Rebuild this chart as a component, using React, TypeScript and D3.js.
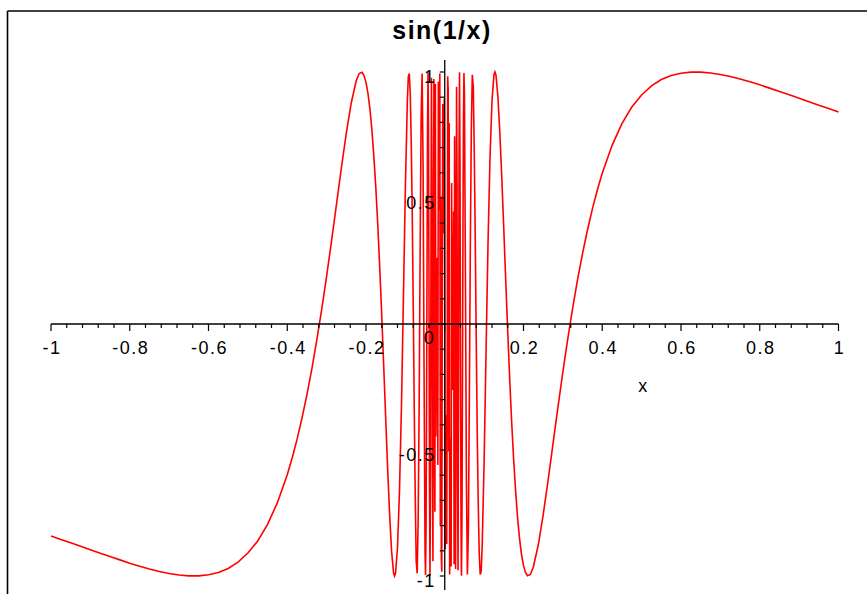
import React from "react";
import * as d3 from "d3";

const title = "sin(1/x)";
const xAxisTitle = "x";

// Sampled points [x, y] of the plotted curve, left half (x < 0)
const curveLeft: [number, number][] = [
  [-1.0, -0.841], [-0.975, -0.855], [-0.95, -0.868], [-0.925, -0.882], [-0.9, -0.896],
  [-0.875, -0.91], [-0.85, -0.923], [-0.825, -0.936], [-0.8, -0.949], [-0.775, -0.961],
  [-0.75, -0.972], [-0.725, -0.982], [-0.7, -0.99], [-0.675, -0.996], [-0.65, -0.9995],
  [-0.625, -0.9996], [-0.6, -0.995], [-0.575, -0.986], [-0.55, -0.97], [-0.525, -0.945],
  [-0.5, -0.909], [-0.475, -0.861], [-0.45, -0.795], [-0.425, -0.709], [-0.4, -0.598],
  [-0.3875, -0.532], [-0.375, -0.457], [-0.3625, -0.373], [-0.35, -0.28], [-0.3375, -0.178],
  [-0.325, -0.064], [-0.3125, 0.058], [-0.3, 0.19], [-0.2875, 0.33], [-0.275, 0.475],
  [-0.2625, 0.62], [-0.25, 0.757], [-0.2375, 0.877], [-0.225, 0.964], [-0.2175, 0.994],
  [-0.21, 0.9986], [-0.205, 0.986], [-0.2, 0.959], [-0.195, 0.915], [-0.19, 0.853],
  [-0.185, 0.77], [-0.18, 0.663], [-0.175, 0.539], [-0.17, 0.391], [-0.165, 0.22],
  [-0.16, 0.033], [-0.155, -0.168], [-0.15, -0.374], [-0.145, -0.576], [-0.14, -0.756],
  [-0.135, -0.902], [-0.13, -0.988], [-0.1275, -0.9999], [-0.125, -0.989], [-0.12, -0.887],
  [-0.115, -0.665], [-0.11, -0.33], [-0.105, 0.099], [-0.1, 0.544], [-0.095, 0.884],
  [-0.0925, 0.983], [-0.09, 0.994], [-0.0875, 0.908], [-0.085, 0.709], [-0.0825, 0.43],
  [-0.08, 0.066], [-0.0775, -0.331], [-0.075, -0.677], [-0.0725, -0.941], [-0.07, -0.989],
  [-0.0675, -0.778], [-0.065, -0.319], [-0.0625, 0.289], [-0.06, 0.818], [-0.0575, 0.994],
  [-0.055, 0.619], [-0.0525, -0.197], [-0.05, -0.913], [-0.04875, -0.996], [-0.0475, -0.806],
  [-0.04625, -0.362], [-0.045, 0.229], [-0.04375, 0.761], [-0.0425, 0.9994], [-0.04125, 0.778],
  [-0.04, 0.132], [-0.03875, -0.624], [-0.0375, -0.999], [-0.03625, -0.636], [-0.035, 0.294],
  [-0.03375, 0.977], [-0.0325, 0.603], [-0.03125, -0.551], [-0.03, -0.941], [-0.02875, 0.224],
  [-0.0275, 0.972], [-0.02625, -0.386], [-0.025, -0.745], [-0.02375, 0.953], [-0.0225, -0.446],
  [-0.02125, -0.065], [-0.02, 0.262], [-0.01875, -0.074], [-0.0175, -0.56], [-0.01625, 0.962],
  [-0.015, 0.639], [-0.01375, 0.453], [-0.0125, 0.994], [-0.01125, -0.798], [-0.01, 0.506],
  [-0.00875, -0.928], [-0.0075, -0.983], [-0.00625, 0.219], [-0.005, 0.873], [-0.00375, 0.36],
  [-0.0025, 0.525], [-0.00125, 0.894],
];

// Sampled points [x, y] of the plotted curve, right half (x > 0)
const curveRight: [number, number][] = [
  [0.00125, -0.894], [0.0025, -0.525], [0.00375, -0.36], [0.005, -0.873], [0.00625, -0.219],
  [0.0075, 0.983], [0.00875, 0.928], [0.01, -0.506], [0.01125, 0.798], [0.0125, -0.994],
  [0.01375, -0.453], [0.015, -0.639], [0.01625, -0.962], [0.0175, 0.56], [0.01875, 0.074],
  [0.02, -0.262], [0.02125, 0.065], [0.0225, 0.446], [0.02375, -0.953], [0.025, 0.745],
  [0.02625, 0.386], [0.0275, -0.972], [0.02875, -0.224], [0.03, 0.941], [0.03125, 0.551],
  [0.0325, -0.603], [0.03375, -0.977], [0.035, -0.294], [0.03625, 0.636], [0.0375, 0.999],
  [0.03875, 0.624], [0.04, -0.132], [0.04125, -0.778], [0.0425, -0.9994], [0.04375, -0.761],
  [0.045, -0.229], [0.04625, 0.362], [0.0475, 0.806], [0.04875, 0.996], [0.05, 0.913],
  [0.0525, 0.197], [0.055, -0.619], [0.0575, -0.994], [0.06, -0.818], [0.0625, -0.289],
  [0.065, 0.319], [0.0675, 0.778], [0.07, 0.989], [0.0725, 0.941], [0.075, 0.677],
  [0.0775, 0.331], [0.08, -0.066], [0.0825, -0.43], [0.085, -0.709], [0.0875, -0.908],
  [0.09, -0.994], [0.0925, -0.983], [0.095, -0.884], [0.1, -0.544], [0.105, -0.099],
  [0.11, 0.33], [0.115, 0.665], [0.12, 0.887], [0.125, 0.989], [0.1275, 0.9999],
  [0.13, 0.988], [0.135, 0.902], [0.14, 0.756], [0.145, 0.576], [0.15, 0.374],
  [0.155, 0.168], [0.16, -0.033], [0.165, -0.22], [0.17, -0.391], [0.175, -0.539],
  [0.18, -0.663], [0.185, -0.77], [0.19, -0.853], [0.195, -0.915], [0.2, -0.959],
  [0.205, -0.986], [0.21, -0.9986], [0.2175, -0.994], [0.225, -0.964], [0.2375, -0.877],
  [0.25, -0.757], [0.2625, -0.62], [0.275, -0.475], [0.2875, -0.33], [0.3, -0.19],
  [0.3125, -0.058], [0.325, 0.064], [0.3375, 0.178], [0.35, 0.28], [0.3625, 0.373],
  [0.375, 0.457], [0.3875, 0.532], [0.4, 0.598], [0.425, 0.709], [0.45, 0.795],
  [0.475, 0.861], [0.5, 0.909], [0.525, 0.945], [0.55, 0.97], [0.575, 0.986],
  [0.6, 0.995], [0.625, 0.9996], [0.65, 0.9995], [0.675, 0.996], [0.7, 0.99],
  [0.725, 0.982], [0.75, 0.972], [0.775, 0.961], [0.8, 0.949], [0.825, 0.936],
  [0.85, 0.923], [0.875, 0.91], [0.9, 0.896], [0.925, 0.882], [0.95, 0.868],
  [0.975, 0.855], [1.0, 0.841],
];

const xTickLabels = ["-1", "-0.8", "-0.6", "-0.4", "-0.2", "0.2", "0.4", "0.6", "0.8", "1"];
const xTickValues = [-1, -0.8, -0.6, -0.4, -0.2, 0.2, 0.4, 0.6, 0.8, 1];
const yTickLabels = ["1", "0.5", "-0.5", "-1"];
const yTickValues = [1, 0.5, -0.5, -1];
const originLabel = "0";

export default function App() {
  const W = 867;
  const H = 594;
  const x = d3.scaleLinear().domain([-1, 1]).range([51, 838.5]);
  const y = d3.scaleLinear().domain([-1, 1]).range([576, 72]);
  const x0 = x(0);
  const y0 = y(0);

  const pts = [...curveLeft, ...curveRight];
  const line = d3
    .line<[number, number]>()
    .x((d) => x(d[0]))
    .y((d) => y(d[1]));

  const xMinor = d3.range(0, 51).map((i) => -1 + i * 0.04);
  const yMinor = d3.range(-10, 11).map((i) => i * 0.1);

  const font = "Liberation Sans, Arial, Helvetica, sans-serif";

  return (
    <svg
      width={W}
      height={H}
      style={{ position: "absolute", left: 0, top: 0, background: "#fff" }}
    >
      <rect x={0} y={0} width={W} height={H} fill="#fff" />
      {/* frame */}
      <line x1={7.5} y1={11} x2={W} y2={11} stroke="#000" strokeWidth={1.6} />
      <line x1={7.5} y1={11} x2={7.5} y2={H} stroke="#000" strokeWidth={1.6} />

      {/* title */}
      <text
        x={442}
        y={39}
        textAnchor="middle"
        fontFamily={font}
        fontWeight="bold"
        fontSize={25}
        letterSpacing={1.5}
      >
        {title}
      </text>

      {/* curve */}
      <path d={line(pts) || ""} fill="none" stroke="#ff0000" strokeWidth={1.6} />

      {/* x axis */}
      <line x1={x(-1)} y1={y0} x2={x(1)} y2={y0} stroke="#000" strokeWidth={1.3} />
      {xMinor.map((v, i) => {
        const major = i % 5 === 0;
        return (
          <line
            key={"xt" + i}
            x1={x(v)}
            x2={x(v)}
            y1={y0}
            y2={y0 + (major ? 7 : 4)}
            stroke="#000"
            strokeWidth={1.2}
          />
        );
      })}
      {xTickValues.map((v, i) => (
        <text
          key={"xl" + i}
          x={x(v) + 1}
          y={y0 + 30}
          textAnchor="middle"
          fontFamily={font}
          fontSize={18}
          letterSpacing={1.5}
          fill="#000"
        >
          {xTickLabels[i]}
        </text>
      ))}
      <text
        x={x(0.5) + 1}
        y={392}
        textAnchor="middle"
        fontFamily={font}
        fontSize={18}
        fill="#000"
      >
        {xAxisTitle}
      </text>

      {/* y axis */}
      <line x1={x0} y1={60} x2={x0} y2={590} stroke="#000" strokeWidth={1.3} />
      {yMinor.map((v, i) => (
        <line
          key={"yt" + i}
          x1={x0 - 5}
          x2={x0}
          y1={y(v)}
          y2={y(v)}
          stroke="#000"
          strokeWidth={1.2}
        />
      ))}
      {yTickValues.map((v, i) => (
        <text
          key={"yl" + i}
          x={x0 - 9}
          y={y(v) + 11}
          textAnchor="end"
          fontFamily={font}
          fontSize={18}
          letterSpacing={1.5}
          fill="#000"
        >
          {yTickLabels[i]}
        </text>
      ))}
      <text
        x={x0 - 11}
        y={y0 + 20}
        textAnchor="end"
        fontFamily={font}
        fontSize={18}
        fill="#000"
      >
        {originLabel}
      </text>
    </svg>
  );
}
